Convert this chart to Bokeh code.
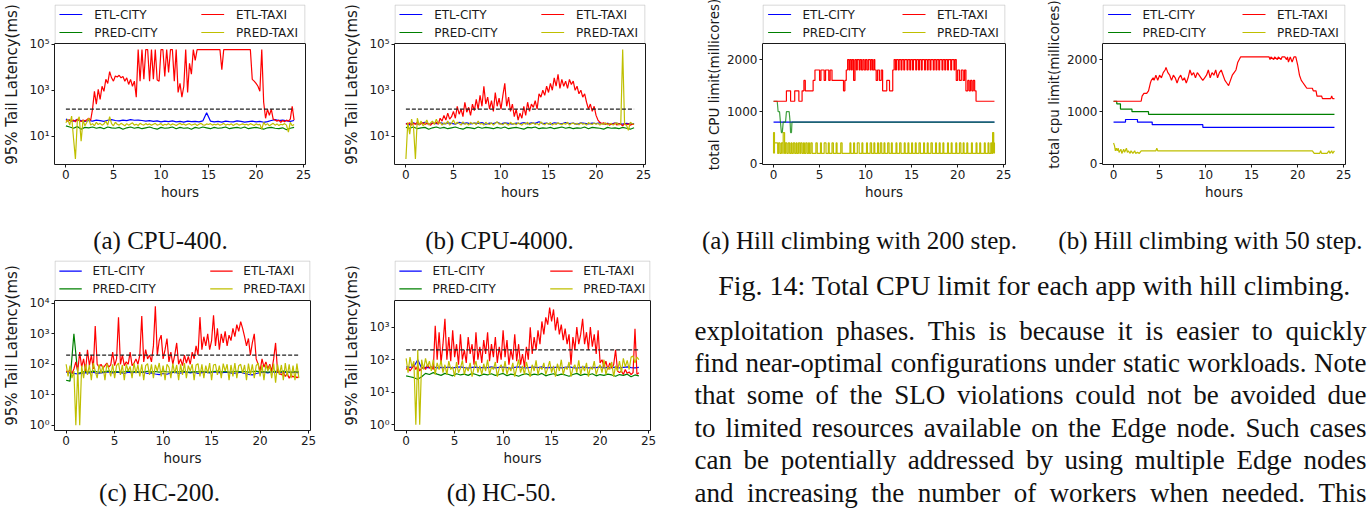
import math
import numpy as np
from bokeh.plotting import figure
from bokeh.models import Range1d, FixedTicker, CustomJSTickFormatter, LogAxis, LinearAxis
from bokeh.layouts import row, column
from bokeh.embed import file_html
from bokeh.resources import INLINE
from bokeh.core.properties import value

# ------------------------------------------------------------------ data
SERIES = ["ETL-CITY", "PRED-CITY", "ETL-TAXI", "PRED-TAXI"]
HOUR_TICKS = [0, 5, 10, 15, 20, 25]
HOUR_SPAN = [0, 24]
TICKS_AB = [10, 1000, 100000]
TICKS_C = [1, 10, 100, 1000, 10000]
TICKS_D = [1, 10, 100, 1000]
TICKS_CPU = [0, 1000, 2000]
SLO_AB = 150
SLO_CD = 200

# (a) CPU-400  (sampled every 0.2 h / 0.4 h)
A_ETL_TAXI = [48, 45, 52, 44, 50, 42, 55, 47, 43, 50,
              46, 52, 60, 48, 150, 900, 250, 1100, 400, 1500,
              900, 3000, 2000, 6500, 3500, 2500, 4200, 3800, 4500, 3500,
              4000, 2500, 3500, 1800, 3000, 1500, 2500, 500, 60000, 2500,
              60000, 3000, 60000, 60000, 2500, 60000, 3000, 60000, 2800, 2500,
              60000, 60000, 4000, 60000, 6000, 60000, 60000, 2500, 60000, 800,
              2000, 500, 1500, 60000, 800, 15000, 5000, 60000, 20000, 60000,
              60000, 60000, 60000, 60000, 60000, 60000, 60000, 60000, 60000, 60000,
              60000, 60000, 8000, 60000, 60000, 60000, 60000, 60000, 60000, 60000,
              60000, 60000, 60000, 60000, 60000, 60000, 60000, 60000, 3000, 2500,
              2000, 1500, 900, 60000, 300, 60, 150, 80, 150, 55,
              50, 45, 50, 40, 48, 42, 50, 45, 55, 200,
              50]
A_ETL_CITY = [55, 48, 45, 52, 47, 44, 48, 45, 50, 47,
              44, 49, 52, 48, 46, 50, 47, 52, 49, 50,
              48, 45, 47, 44, 46, 42, 45, 43, 46, 42,
              44, 41, 45, 43, 44, 42, 46, 105, 45, 42,
              44, 41, 45, 43, 42, 46, 44, 41, 43, 45,
              42, 44, 40, 43, 48, 52, 47, 50, 46, 44,
              48]
A_PRED_CITY = [28, 25, 22, 26, 20, 24, 23, 25, 22, 24,
               21, 25, 23, 22, 24, 20, 23, 25, 22, 24,
               21, 23, 25, 22, 20, 24, 22, 23, 25, 21,
               24, 22, 23, 20, 24, 22, 25, 23, 21, 24,
               22, 23, 25, 21, 23, 24, 22, 25, 21, 23,
               24, 22, 20, 23, 24, 22, 21, 23, 19, 22,
               24]
A_PRED_TAXI = [38, 55, 30, 75, 8, 1, 45, 70, 6, 50,
               28, 40, 60, 30, 35, 28, 40, 32, 36, 30,
               34, 45, 30, 70, 35, 28, 40, 33, 30, 36,
               32, 28, 35, 30, 34, 38, 30, 33, 29, 36,
               32, 30, 35, 31, 34, 30, 33, 36, 30, 32,
               35, 29, 33, 31, 35, 30, 34, 32, 29, 33,
               36, 31, 34, 30, 33, 35, 30, 32, 34, 29,
               33, 36, 31, 30, 34, 32, 35, 30, 33, 31,
               34, 30, 32, 36, 30, 33, 31, 34, 29, 33,
               35, 30, 32, 34, 31, 33, 30, 35, 32, 29,
               34, 31, 33, 20, 40, 30, 35, 28, 32, 36,
               30, 34, 29, 33, 31, 35, 30, 15, 40, 28,
               32]

# (b) CPU-4000
B_ETL_TAXI = [35, 32, 38, 30, 36, 33, 40, 31, 35, 38,
              32, 36, 34, 30, 37, 35, 40, 33, 60, 45,
              80, 50, 100, 55, 70, 120, 60, 200, 90, 150,
              70, 300, 110, 180, 80, 250, 130, 400, 150, 600,
              200, 1500, 250, 500, 150, 350, 120, 800, 200, 450,
              150, 600, 2000, 200, 500, 120, 250, 70, 150, 50,
              100, 60, 200, 80, 300, 120, 250, 180, 350, 150,
              700, 500, 1000, 600, 1500, 800, 2000, 1000, 3500, 1500,
              5000, 1200, 3000, 1500, 2500, 1200, 3000, 1800, 2500, 1000,
              1500, 700, 1000, 500, 700, 300, 150, 250, 120, 200,
              80, 50, 40, 35, 38, 33, 36, 30, 34, 32,
              37, 30, 35, 33, 28, 36, 31, 34, 30, 33,
              32]
B_ETL_CITY = [36, 31, 38, 33, 36, 40, 33, 37, 35, 39,
              34, 38, 36, 33, 40, 35, 38, 34, 37, 36,
              39, 33, 37, 35, 40, 34, 38, 36, 33, 37,
              35, 39, 34, 38, 36, 42, 35, 37, 33, 38,
              36, 34, 39, 35, 37, 33, 38, 36, 34, 37,
              35, 38, 33, 36, 34, 37, 35, 33, 36, 34,
              35]
B_PRED_CITY = [24, 22, 25, 21, 23, 24, 20, 23, 25, 22,
               24, 21, 23, 25, 22, 20, 24, 23, 21, 25,
               22, 24, 23, 21, 24, 22, 25, 21, 23, 24,
               22, 20, 24, 23, 25, 21, 23, 22, 24, 21,
               23, 25, 22, 24, 21, 23, 22, 25, 21, 24,
               23, 22, 20, 24, 22, 23, 21, 24, 22, 20,
               23]
B_PRED_TAXI = [1, 40, 12, 55, 25, 1, 60, 30, 45, 28,
               35, 50, 30, 38, 45, 32, 55, 35, 40, 30,
               38, 33, 45, 30, 36, 50, 33, 40, 35, 30,
               42, 32, 36, 30, 40, 34, 38, 31, 45, 33,
               36, 30, 40, 34, 32, 38, 30, 36, 42, 33,
               35, 31, 38, 34, 30, 40, 33, 36, 31, 38,
               34, 30, 37, 33, 40, 31, 35, 38, 32, 36,
               30, 42, 34, 31, 37, 33, 39, 30, 35, 32,
               38, 34, 31, 36, 33, 40, 30, 35, 37, 32,
               36, 31, 38, 33, 35, 30, 39, 34, 32, 37,
               33, 36, 30, 35, 32, 38, 31, 34, 36, 30,
               35, 38, 30, 35, 60000, 32, 30, 18, 40, 35,
               33]

# (c) HC-200
C_ETL_TAXI = [60, 55, 65, 50, 70, 120, 60, 250, 80, 150,
              60, 300, 90, 200, 70, 1800, 100, 80, 100, 75,
              90, 110, 80, 95, 250, 90, 150, 3500, 100, 200,
              90, 120, 100, 250, 90, 110, 150, 100, 200, 3800,
              120, 300, 150, 200, 120, 400, 8000, 200, 600, 900,
              150, 300, 700, 120, 250, 100, 200, 500, 100, 150,
              90, 200, 110, 180, 100, 250, 150, 400, 200, 3500,
              300, 800, 400, 1000, 300, 600, 4000, 400, 1500, 300,
              1000, 500, 1200, 400, 900, 600, 1500, 800, 2000, 1200,
              2500, 1500, 800, 400, 700, 200, 500, 1000, 150, 100,
              60, 150, 80, 120, 70, 100, 60, 150, 500, 60,
              50, 45, 55, 40, 50, 35, 45, 38, 42, 36,
              40]
C_ETL_CITY = [55, 52, 50, 48, 50, 53, 52, 55, 50, 52,
              54, 56, 52, 55, 53, 50, 55, 52, 56, 53,
              55, 50, 52, 48, 46, 50, 47, 52, 55, 50,
              53, 56, 52, 55, 50, 53, 55, 52, 56, 54,
              52, 55, 53, 50, 52, 55, 50, 47, 45, 50,
              53, 55, 52, 56, 54, 55, 52, 56, 53, 55,
              52]
C_PRED_CITY = [30, 28, 1000, 50, 55, 58, 56, 60, 57, 55,
               58, 60, 56, 58, 55, 57, 60, 56, 58, 55,
               57, 59, 56, 58, 55, 60, 57, 55, 58, 56,
               60, 57, 55, 58, 56, 59, 57, 55, 58, 60,
               56, 58, 55, 57, 59, 56, 58, 55, 57, 60,
               56, 58, 55, 57, 59, 56, 60, 57, 55, 58,
               56]
C_PRED_TAXI = [100, 40, 90, 35, 60, 1, 80, 1, 90, 35,
               100, 45, 95, 30, 110, 60, 35, 100, 50, 90,
               30, 105, 70, 40, 100, 35, 90, 110, 45, 95,
               30, 100, 60, 85, 35, 110, 50, 95, 40, 100,
               30, 90, 105, 45, 100, 35, 95, 60, 110, 40,
               90, 30, 100, 80, 35, 105, 50, 95, 30, 100,
               45, 110, 35, 90, 60, 100, 30, 95, 105, 40,
               100, 35, 90, 50, 110, 30, 95, 100, 45, 90,
               35, 105, 60, 100, 30, 95, 40, 110, 35, 90,
               100, 50, 95, 30, 105, 45, 100, 35, 90, 110,
               40, 95, 30, 100, 60, 90, 35, 105, 25, 100,
               45, 95, 30, 110, 40, 100, 35, 90, 30, 105,
               35]

# (d) HC-50
D_ETL_TAXI = [50, 60, 45, 55, 70, 50, 65, 45, 55, 60,
              50, 70, 55, 60, 50, 1100, 100, 700, 80, 300,
              1800, 100, 500, 90, 800, 120, 300, 70, 600, 100,
              200, 80, 500, 150, 300, 70, 700, 100, 250, 80,
              400, 150, 700, 90, 300, 120, 500, 80, 250, 100,
              800, 120, 400, 70, 200, 100, 600, 90, 300, 70,
              150, 60, 250, 100, 1000, 150, 500, 200, 800, 300,
              1500, 600, 2000, 1200, 4000, 1500, 3500, 800, 2000, 600,
              1200, 400, 900, 300, 600, 70, 500, 200, 1000, 300,
              600, 1800, 300, 700, 200, 1000, 250, 600, 150, 800,
              80, 100, 60, 90, 50, 80, 55, 70, 200, 45,
              40, 45, 35, 50, 38, 42, 35, 40, 900, 36,
              40]
D_ETL_CITY = [60, 58, 62, 100, 55, 58, 57, 60, 56, 58,
              57, 59, 56, 58, 60, 57, 55, 58, 59, 56,
              58, 57, 60, 56, 58, 59, 57, 55, 58, 60,
              57, 56, 58, 59, 57, 60, 56, 58, 57, 59,
              56, 58, 60, 57, 55, 58, 59, 56, 58, 57,
              60, 56, 58, 57, 59, 56, 58, 60, 57, 56,
              58]
D_PRED_CITY = [32, 30, 28, 25, 30, 38, 35, 40, 36, 33,
               38, 35, 32, 37, 34, 36, 33, 38, 35, 32,
               36, 34, 37, 33, 35, 38, 32, 36, 34, 31,
               35, 37, 33, 36, 34, 38, 32, 35, 37, 33,
               36, 34, 31, 35, 38, 33, 36, 34, 37, 32,
               35, 33, 36, 34, 31, 35, 33, 36, 30, 34,
               32]
D_PRED_TAXI = [110, 40, 120, 60, 90, 1, 200, 1, 100, 50,
               110, 60, 90, 45, 100, 35, 80, 50, 95, 40,
               70, 35, 90, 50, 60, 30, 85, 40, 55, 95,
               35, 60, 45, 80, 30, 55, 90, 40, 65, 35,
               75, 45, 100, 35, 60, 50, 85, 30, 55, 70,
               40, 90, 35, 60, 45, 80, 30, 55, 100, 40,
               65, 35, 85, 50, 30, 70, 45, 95, 35, 60,
               50, 80, 35, 55, 90, 40, 65, 30, 75, 45,
               100, 35, 60, 50, 85, 30, 55, 70, 40, 95,
               35, 65, 45, 80, 30, 60, 50, 90, 35, 55,
               70, 40, 100, 35, 60, 50, 85, 30, 65, 45,
               90, 40, 110, 60, 95, 50, 120, 130, 80, 120,
               100]

# (e) hill climbing, 200 step: (hour, millicores)
E_ETL_CITY = [(0, 800), (24, 800)]
E_PRED_CITY = [(0, 1200), (0.4, 1200), (0.5, 1000), (0.65, 1000), (0.75, 800), (0.85, 600),
               (0.95, 600), (1.05, 800), (1.3, 800), (1.4, 1000), (1.7, 1000), (1.8, 800),
               (1.85, 600), (1.95, 600), (2.0, 800), (24, 800)]
E_ETL_TAXI = [(0, 1200), (1.4, 1400), (1.85, 1200), (2.3, 1400), (2.75, 1200), (3.1, 1400),
              (3.3, 1600), (3.45, 1400), (4.3, 1600), (4.5, 1800), (5.0, 1600), (5.15, 1800),
              (5.5, 1600), (5.65, 1800), (6.0, 1600), (6.15, 1800), (6.35, 1600), (7.6, 1400),
              (7.75, 1600), (7.9, 1800), (8.05, 2000), (8.2, 1800), (8.3, 2000), (8.45, 1800),
              (8.55, 2000), (8.7, 1600), (8.85, 2000), (9.0, 1800), (9.1, 2000), (9.3, 1800),
              (9.4, 2000), (9.55, 1800), (9.7, 2000), (9.85, 1800), (10.0, 2000), (10.15, 1800),
              (10.3, 2000), (10.5, 1800), (10.6, 2000), (10.75, 1800), (10.9, 2000), (11.0, 1800),
              (11.15, 1600), (11.3, 1800), (11.5, 1600), (11.7, 1800), (11.85, 1400), (12.3, 1600),
              (12.6, 1400), (12.95, 1800), (13.1, 2000), (13.25, 1800), (13.35, 2000), (13.55, 1800),
              (13.65, 2000), (13.85, 1800), (13.95, 2000), (14.15, 1800), (14.25, 2000), (14.5, 1800),
              (14.6, 2000), (14.8, 1800), (14.9, 2000), (15.1, 1800), (15.2, 2000), (15.45, 1800),
              (15.55, 2000), (15.75, 1800), (15.85, 2000), (16.05, 1800), (16.15, 2000), (16.4, 1800),
              (16.5, 2000), (16.7, 1800), (16.8, 2000), (17.0, 1800), (17.1, 2000), (17.35, 1800),
              (17.45, 2000), (17.65, 1800), (17.75, 2000), (17.95, 1800), (18.05, 2000), (18.3, 1800),
              (18.4, 2000), (18.6, 1800), (18.7, 2000), (18.9, 1800), (19.0, 2000), (19.25, 1800),
              (19.35, 2000), (19.6, 1800), (19.7, 2000), (19.85, 1600), (20.0, 1800), (20.2, 1600),
              (20.4, 1800), (20.6, 1600), (20.75, 1800), (20.9, 1400), (21.1, 1600), (21.25, 1400),
              (21.4, 1600), (21.55, 1400), (21.7, 1600), (21.85, 1400), (22.0, 1200), (24.0, 1200)]
E_PRED_TAXI_BASE = 200
E_PRED_TAXI_PULSES = [(0, 0.1, 600), (0.1, 0.45, 400), (0.55, 0.7, 400), (0.85, 1.0, 400),
                      (1.05, 1.2, 600), (1.3, 1.45, 400), (1.6, 1.75, 400), (1.9, 2.0, 400),
                      (2.15, 2.3, 400), (2.45, 2.55, 400), (2.7, 2.85, 400), (2.95, 3.1, 400),
                      (3.25, 3.35, 400), (3.5, 3.65, 400), (3.8, 3.9, 400), (4.05, 4.2, 400),
                      (4.6, 4.75, 400), (5.1, 5.2, 400), (5.5, 5.7, 400), (5.95, 6.05, 400),
                      (6.35, 6.5, 400), (6.8, 6.9, 400), (7.3, 7.45, 400), (8.3, 8.4, 400),
                      (8.7, 8.8, 400), (9.1, 9.3, 400), (9.6, 9.7, 400), (10.1, 10.2, 400),
                      (10.5, 10.65, 400), (10.9, 11.0, 400), (11.3, 11.4, 400), (11.6, 11.75, 400),
                      (12.0, 12.1, 400), (12.4, 12.55, 400), (12.8, 12.9, 400), (13.3, 13.4, 400),
                      (13.7, 13.85, 400), (14.2, 14.3, 400), (14.6, 14.7, 400), (15.0, 15.1, 400),
                      (15.4, 15.5, 400), (15.8, 15.95, 400), (16.3, 16.4, 400), (16.7, 16.8, 400),
                      (17.1, 17.25, 400), (17.6, 17.7, 400), (18.0, 18.1, 400), (18.4, 18.5, 400),
                      (18.9, 19.0, 400), (19.3, 19.4, 400), (19.8, 19.9, 400), (20.2, 20.35, 400),
                      (20.6, 20.7, 400), (21.0, 21.1, 400), (21.5, 21.6, 400), (22.0, 22.1, 400),
                      (22.4, 22.5, 400), (22.9, 23.0, 400), (23.3, 23.4, 400), (23.6, 23.7, 400),
                      (23.8, 23.92, 600), (23.92, 24.0, 400)]

# (f) hill climbing, 50 step
F_ETL_CITY = [(0, 800), (1.3, 850), (2.6, 800), (4.2, 750), (9.7, 700), (24, 700)]
F_PRED_CITY = [(0, 1200), (0.35, 1150), (0.75, 1050), (2.0, 1000), (3.8, 950), (24, 950)]
F_ETL_TAXI = [(0, 1200), (3.0, 1200), (3.1, 1300), (3.3, 1350), (3.6, 1350), (3.8, 1400),
              (4.0, 1550), (4.1, 1600), (4.3, 1650), (4.4, 1600), (4.6, 1700), (4.8, 1600),
              (5.0, 1700), (5.2, 1650), (5.4, 1750), (5.6, 1800), (5.7, 1850), (5.9, 1750),
              (6.1, 1700), (6.3, 1600), (6.5, 1700), (6.7, 1650), (6.9, 1550), (7.1, 1650),
              (7.3, 1700), (7.5, 1600), (7.7, 1650), (7.9, 1550), (8.1, 1650), (8.3, 1800),
              (8.5, 1700), (8.7, 1750), (8.9, 1650), (9.1, 1750), (9.3, 1700), (9.5, 1650),
              (9.7, 1600), (9.9, 1650), (10.1, 1700), (10.3, 1800), (10.5, 1650), (10.7, 1750),
              (10.9, 1700), (11.1, 1800), (11.3, 1650), (11.5, 1750), (11.7, 1800), (11.9, 1700),
              (12.1, 1600), (12.3, 1550), (12.5, 1500), (12.7, 1600), (12.9, 1700), (13.1, 1750),
              (13.3, 1800), (13.5, 1950), (13.8, 2050), (16.9, 2050), (17.0, 2000), (17.1, 2050),
              (17.4, 2000), (17.5, 2050), (17.8, 2000), (17.9, 2050), (18.2, 2000), (18.3, 2050),
              (18.6, 2050), (18.8, 2000), (18.9, 2050), (19.0, 1950), (19.2, 2050), (19.4, 1950),
              (19.6, 2050), (19.8, 2050), (20.0, 1900), (20.2, 1700), (20.4, 1600), (20.6, 1550),
              (20.8, 1500), (21.0, 1450), (21.6, 1450), (21.7, 1400), (22.0, 1400), (22.1, 1300),
              (22.6, 1300), (22.7, 1250), (23.6, 1250), (23.7, 1300), (23.8, 1250), (24.0, 1250)]
F_PRED_TAXI = [(0, 400), (0.1, 350), (0.2, 250), (0.3, 300), (0.4, 250), (0.5, 300),
               (0.6, 220), (0.8, 280), (0.9, 200), (1.1, 280), (1.2, 220), (1.4, 300),
               (1.5, 220), (1.6, 250), (1.8, 200), (1.9, 250), (2.1, 200), (2.3, 250),
               (2.4, 200), (2.6, 220), (2.8, 200), (3.0, 250), (4.6, 250), (4.7, 300),
               (4.8, 250), (21.6, 250), (21.8, 200), (22.4, 200), (22.5, 250), (22.6, 200),
               (23.2, 200), (23.4, 250), (23.5, 200), (23.7, 250), (23.8, 200), (24.0, 250)]

CAPTION_A = "(a) CPU-400."
CAPTION_B = "(b) CPU-4000."
CAPTION_C = "(c) HC-200."
CAPTION_D = "(d) HC-50."
CAPTION_E = "(a) Hill climbing with 200 step."
CAPTION_F = "(b) Hill climbing with 50 step."
CAPTION_FIG = "Fig. 14: Total CPU limit for each app with hill climbing."
BODY_LINES = [
    "exploitation phases. This is because it is easier to quickly",
    "find near-optimal configurations under static workloads. Note",
    "that some of the SLO violations could not be avoided due",
    "to limited resources available on the Edge node. Such cases",
    "can be potentially addressed by using multiple Edge nodes",
    "and increasing the number of workers when needed. This",
]

# ------------------------------------------------------------------ style
COLORS = {"ETL-CITY": "#0000ff", "ETL-TAXI": "#ff0000",
          "PRED-CITY": "#008000", "PRED-TAXI": "#bfbf00"}
INK = "#1a1a1a"
SANS = "DejaVu Sans"
SERIF = "Liberation Serif"
LW = 1.2
XR = (-1.2, 25.2)

SUP_JS = """
const sup = {"0":"\u2070","1":"\u00b9","2":"\u00b2","3":"\u00b3","4":"\u2074","5":"\u2075","-":"\u207b"};
const e = Math.round(Math.log10(tick));
return "10" + String(e).split("").map(c => sup[c]).join("");
"""


def hours_for(vals):
    return np.linspace(HOUR_SPAN[0], HOUR_SPAN[1], len(vals))


def unzip(pairs):
    return [p[0] for p in pairs], [p[1] for p in pairs]


def pulses_to_steps(base, pulses):
    xs, ys = [HOUR_SPAN[0]], [base]
    for s, e, lv in pulses:
        xs += [s, e]
        ys += [lv, base]
    xs.append(HOUR_SPAN[1])
    ys.append(ys[-1])
    return xs, ys


def style_axis(ax):
    ax.axis_line_color = INK
    ax.axis_line_width = 1
    ax.major_tick_line_color = INK
    ax.major_tick_out = 3
    ax.major_tick_in = 0
    ax.minor_tick_out = 0
    ax.minor_tick_in = 0
    ax.major_label_text_font = SANS
    ax.major_label_text_font_size = "12px"
    ax.major_label_text_color = INK
    ax.major_label_standoff = 2
    ax.axis_label_text_font = SANS
    ax.axis_label_text_font_style = "normal"
    ax.axis_label_text_color = INK


class Chart:
    """A matplotlib-like axes with its legend band drawn on top of the axes box."""

    def __init__(self, w, bl, br, top, leg_h, axes_h, bb, yr, log, yticks,
                 ylabel, ylsize, ylstand, col2, rows, line_dx, text_dx):
        lo, hi = yr
        self.log, self.lo, self.hi = log, lo, hi
        if log:
            span = math.log10(hi) - math.log10(lo)
            ftop = 10 ** (math.log10(hi) + span * leg_h / axes_h)
        else:
            ftop = hi + (hi - lo) * leg_h / axes_h
        self.ftop = ftop
        self.fh = leg_h + axes_h
        self.fw = w - bl - br
        p = figure(width=w, height=top + self.fh + bb, x_range=Range1d(*XR),
                   y_range=Range1d(lo, ftop), y_axis_type="log" if log else "linear",
                   toolbar_location=None, output_backend="svg",
                   min_border_left=bl, min_border_right=br, min_border_top=top,
                   min_border_bottom=bb, background_fill_color="white",
                   border_fill_color="white", outline_line_color=None)
        p.grid.visible = False
        style_axis(p.xaxis[0])
        style_axis(p.yaxis[0])
        p.xaxis.ticker = FixedTicker(ticks=HOUR_TICKS)
        p.xaxis.axis_label = "hours"
        p.xaxis.axis_label_text_font_size = "13.5px"
        p.xaxis.axis_label_standoff = 2
        p.yaxis.ticker = FixedTicker(ticks=yticks)
        p.yaxis.bounds = (lo, hi)
        p.yaxis.axis_label = ylabel
        p.yaxis.axis_label_text_font_size = ylsize
        p.yaxis.axis_label_standoff = ylstand
        if log:
            p.yaxis.formatter = CustomJSTickFormatter(code=SUP_JS)
        rax = (LogAxis if log else LinearAxis)(ticker=FixedTicker(ticks=[]), bounds=(lo, hi))
        style_axis(rax)
        rax.major_tick_out = 0
        p.add_layout(rax, "right")
        self.p = p
        self.col2, self.rows, self.line_dx, self.text_dx = col2, rows, line_dx, text_dx

    def dx(self, px):
        return XR[0] + px * (XR[1] - XR[0]) / self.fw

    def dy(self, px):
        if self.log:
            lt, ll = math.log10(self.ftop), math.log10(self.lo)
            return 10 ** (lt - px * (lt - ll) / self.fh)
        return self.ftop - px * (self.ftop - self.lo) / self.fh

    def finish(self):
        p = self.p
        p.quad(left=[self.dx(0.5)], right=[self.dx(self.fw - 0.5)], top=[self.dy(0.5)],
               bottom=[self.hi], fill_color="white", line_color="#cccccc", line_width=1)
        p.line(list(XR), [self.hi, self.hi], color=INK, line_width=1)
        entries = [("ETL-CITY", self.line_dx, 0), ("ETL-TAXI", self.col2, 0),
                   ("PRED-CITY", self.line_dx, 1), ("PRED-TAXI", self.col2, 1)]
        for name, x0, r in entries:
            y = self.dy(self.rows[r])
            p.line([self.dx(x0), self.dx(x0 + 23)], [y, y], color=COLORS[name], line_width=LW)
            p.text(x=[self.dx(x0 + self.text_dx)], y=[y], text=[name], text_font=value(SANS),
                   text_font_size="12px", text_baseline="middle", text_color=INK)
        return p


def latency(w, bl, br, top, leg_h, axes_h, bb, yr, yticks, data, slo, col2, rows, text_dx):
    c = Chart(w, bl, br, top, leg_h, axes_h, bb, yr, True, yticks,
              "95% Tail Latency(ms)", "15px", 5, col2, rows, 5, text_dx)
    for name in SERIES:
        v = data[name]
        c.p.line(hours_for(v), v, color=COLORS[name], line_width=LW)
    c.p.line(HOUR_SPAN, [slo, slo], color="#222222", line_width=1.2, line_dash="4 2")
    return c.finish()


figA = latency(340, 52, 35, 4, 39, 121, 46, (0.575, 110000), TICKS_AB,
               {"ETL-CITY": A_ETL_CITY, "ETL-TAXI": A_ETL_TAXI,
                "PRED-CITY": A_PRED_CITY, "PRED-TAXI": A_PRED_TAXI}, SLO_AB, 148, (10, 28), 35)
figB = latency(330, 52, 25, 4, 39, 121, 46, (0.575, 110000), TICKS_AB,
               {"ETL-CITY": B_ETL_CITY, "ETL-TAXI": B_ETL_TAXI,
                "PRED-CITY": B_PRED_CITY, "PRED-TAXI": B_PRED_TAXI}, SLO_AB, 148, (10, 28), 35)
figC = latency(340, 47, 30, 2, 40, 130, 40, (0.676, 12300), TICKS_C,
               {"ETL-CITY": C_ETL_CITY, "ETL-TAXI": C_ETL_TAXI,
                "PRED-CITY": C_PRED_CITY, "PRED-TAXI": C_PRED_TAXI}, SLO_CD, 160, (10.7, 28.3), 34)
figD = latency(330, 47, 20, 2, 40, 130, 40, (0.668, 6600), TICKS_D,
               {"ETL-CITY": D_ETL_CITY, "ETL-TAXI": D_ETL_TAXI,
                "PRED-CITY": D_PRED_CITY, "PRED-TAXI": D_PRED_TAXI}, SLO_CD, 160, (10.7, 28.3), 34)

cE = Chart(360, 92, 25, 4, 39, 121, 46, (-13, 2308), False, TICKS_CPU,
           "total CPU limit(millicores)", "13.5px", 2, 140, (10, 28), 5.6, 34.4)
x, y = unzip(E_ETL_CITY)
cE.p.line(x, y, color=COLORS["ETL-CITY"], line_width=LW)
x, y = unzip(E_PRED_CITY)
cE.p.line(x, y, color=COLORS["PRED-CITY"], line_width=LW, line_alpha=0.75)
x, y = unzip(E_ETL_TAXI)
cE.p.step(x, y, mode="after", color=COLORS["ETL-TAXI"], line_width=LW)
x, y = pulses_to_steps(E_PRED_TAXI_BASE, E_PRED_TAXI_PULSES)
cE.p.step(x, y, mode="after", color=COLORS["PRED-TAXI"], line_width=LW)
figE = cE.finish()

cF = Chart(339, 72, 24, 4, 39, 121, 46, (-13, 2308), False, TICKS_CPU,
           "total cpu limit(millicores)", "13.5px", 2, 140, (10, 28), 5.6, 34.4)
x, y = unzip(F_ETL_CITY)
cF.p.step(x, y, mode="after", color=COLORS["ETL-CITY"], line_width=LW)
x, y = unzip(F_PRED_CITY)
cF.p.step(x, y, mode="after", color=COLORS["PRED-CITY"], line_width=LW)
x, y = unzip(F_ETL_TAXI)
cF.p.line(x, y, color=COLORS["ETL-TAXI"], line_width=LW)
x, y = unzip(F_PRED_TAXI)
cF.p.line(x, y, color=COLORS["PRED-TAXI"], line_width=LW)
figF = cF.finish()


# ------------------------------------------------------------------ text
def canvas(w, h):
    return figure(width=w, height=h, x_range=Range1d(0, w), y_range=Range1d(h, 0),
                  x_axis_type=None, y_axis_type=None, toolbar_location=None,
                  output_backend="svg", min_border=0, outline_line_color=None,
                  background_fill_color="white", border_fill_color="white")


def caption(c, x, y, txt, size, align="center"):
    c.text(x=[x], y=[y], text=[txt], text_font=value(SERIF), text_font_size=size,
           text_align=align, text_baseline="middle", text_color="#111111")


capAB = canvas(670, 48)
caption(capAB, 160, 30, CAPTION_A, "25px")
caption(capAB, 499, 30, CAPTION_B, "25px")

capCD = canvas(670, 46)
caption(capCD, 159, 22, CAPTION_C, "25px")
caption(capCD, 501, 22, CAPTION_D, "25px")

TIMES_W = {
    'a': 444, 'b': 500, 'c': 444, 'd': 500, 'e': 444, 'f': 333, 'g': 500, 'h': 500,
    'i': 278, 'j': 278, 'k': 500, 'l': 278, 'm': 778, 'n': 500, 'o': 500, 'p': 500,
    'q': 500, 'r': 333, 's': 389, 't': 278, 'u': 500, 'v': 500, 'w': 722, 'x': 500,
    'y': 500, 'z': 444, 'A': 722, 'B': 667, 'C': 667, 'D': 722, 'E': 611, 'F': 556,
    'G': 722, 'H': 722, 'I': 333, 'L': 611, 'N': 722, 'O': 722, 'P': 556, 'S': 556,
    'T': 611, 'U': 722, 'W': 944, '.': 250, ',': 250, '-': 333, ':': 278, '(': 333,
    ')': 333, ' ': 250,
}


def tw(s, fs):
    return sum(TIMES_W.get(ch, 500) for ch in s) * fs / 1000.0


textc = canvas(699, 306)
caption(textc, 189, 30, CAPTION_E, "25px")
caption(textc, 692, 30, CAPTION_F, "25px", align="right")
caption(textc, 364, 75, CAPTION_FIG, "28px")

BODY_FS = 27
BODY_LEFT, BODY_RIGHT = 24, 696
BODY_TOP, BODY_LEAD = 120, 32.4
for i, line in enumerate(BODY_LINES):
    words = line.split(" ")
    widths = [tw(w, BODY_FS) for w in words]
    gap = (BODY_RIGHT - BODY_LEFT - sum(widths)) / (len(words) - 1)
    xs, xc = [], BODY_LEFT
    for wd in widths:
        xs.append(xc)
        xc += wd + gap
    textc.text(x=xs, y=[BODY_TOP + i * BODY_LEAD] * len(words), text=words,
               text_font=value(SERIF), text_font_size=f"{BODY_FS}px",
               text_baseline="middle", text_color="#111111")

# ------------------------------------------------------------------ layout
left = column(row(figA, figB), capAB, row(figC, figD), capCD)
right = column(row(figE, figF), textc)
page = row(left, right)

open("out.html", "w").write(file_html(page, INLINE))
